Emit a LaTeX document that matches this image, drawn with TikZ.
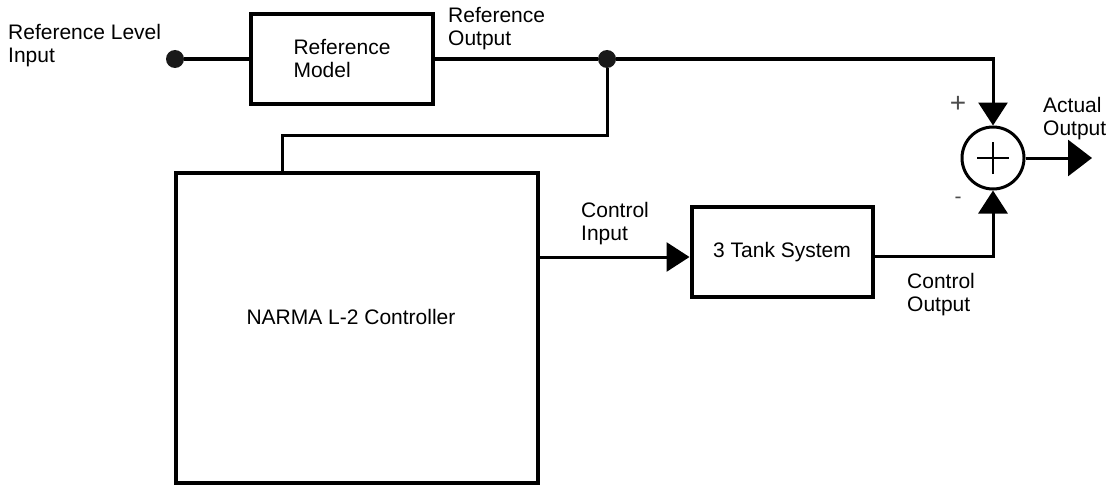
\documentclass[tikz,border=0pt]{standalone}
\usepackage{fontspec}
\setmainfont{Liberation Sans}
\usetikzlibrary{arrows.meta,positioning}

\begin{document}
\begin{tikzpicture}[x=1pt,y=-1pt]
	\tikzstyle{block} = [rectangle, draw=black, line width=4pt, fill=white, inner sep=0pt, align=left, font=\fontsize{21}{23}\selectfont]
	\tikzstyle{lbl}   = [anchor=north west, inner sep=0pt, align=left, font=\fontsize{21}{23}\selectfont]
	\tikzstyle{sign}  = [inner sep=0pt, text=black!70]
	\tikzstyle{wire}  = [line width=3pt]
	\tikzstyle{tip}   = [-{Triangle[length=23pt,width=29pt]}]
	\tikzstyle{bigtip} = [-{Triangle[length=24pt,width=36pt]}]
	\tikzstyle{dot}   = [circle, fill=black!90, inner sep=0pt, minimum size=18pt]

	\useasboundingbox (0,0) rectangle (1107,487);

%	\draw[step=50, gray!30] (0,0) grid (1107,487);

	% blocks
	\node[block, minimum width=182pt, minimum height=90pt] (refmodel) at (342,59) {Reference\\Model};
	\node[block, minimum width=362pt, minimum height=310pt] (ctrl) at (357,328) {};
	\node[inner sep=0pt, font=\fontsize{21}{23}\selectfont] (ctrltext) at (351,317) {NARMA L-2 Controller};
	\node[block, minimum width=181pt, minimum height=90pt] (tank) at (782,252) {3 Tank System};
	\node[circle, draw=black, line width=3pt, fill=white, minimum size=62pt, inner sep=0pt] (sum) at (993,158) {};

	\node[dot] (indot) at (175,59) {};
	\node[dot] (jdot) at (607,59) {};
	\coordinate (stub) at (282,135);
	\coordinate (out) at (1092,158);

	% connectors
	\draw[wire] (indot) -- (refmodel.west);
	\draw[wire] (refmodel.east) -- (jdot);
	\draw[wire, tip] (jdot) -| (sum.north);
	\draw[wire] (jdot) |- (stub) -- (stub |- ctrl.north);
	\draw[wire, tip] (ctrl.east |- 0,257) -- (tank.west |- 0,257);
	\draw[wire, tip] (tank.east |- 0,256) -| (sum.south);
	\draw[wire, bigtip] (sum.east) -- (out);

	% plus inside the sum
	\draw[line width=2.5pt] ([xshift=-16pt]sum.center) -- ([xshift=16pt]sum.center);
	\draw[line width=2.5pt] ([yshift=-16pt]sum.center) -- ([yshift=16pt]sum.center);

	% labels
	\node[lbl] (reflvl) at (8,24) {Reference Level\\Input};
	\node[lbl] (refout) at (448,7) {Reference\\Output};
	\node[lbl] (ctrlin) at (581,202) {Control\\Input};
	\node[lbl] (ctrlout) at (907,273) {Control\\Output};
	\node[lbl] (actout) at (1043,97) {Actual\\Output};
	\node[sign, font=\fontsize{28}{30}\selectfont] (plus) at (958,104) {+};
	\node[sign, font=\fontsize{21}{23}\selectfont] (minus) at (958,200) {-};
\end{tikzpicture}
\end{document}
